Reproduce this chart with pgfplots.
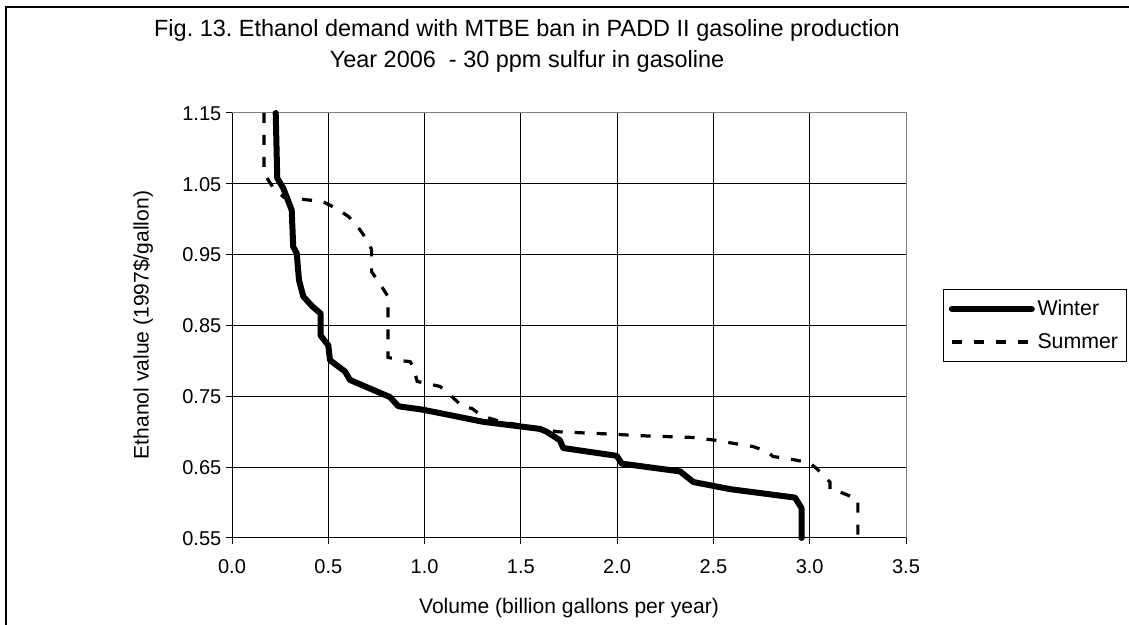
\documentclass[border=0pt]{standalone}
\usepackage{fontspec}
\setmainfont{Liberation Sans}
\usepackage{pgfplots}
\pgfplotsset{compat=1.18}
\frenchspacing
\begin{document}
\begin{tikzpicture}[x=0.75pt,y=0.75pt]
\useasboundingbox (0,0) rectangle (1129,625);
\draw[line width=1.5pt] (6,-10) -- (6,618) -- (1140,618);
\node[anchor=base,font=\fontsize{17.6}{20}\selectfont] at (527,588) {Fig. 13. Ethanol demand with MTBE ban in PADD II gasoline production};
\node[anchor=base,font=\fontsize{17.6}{20}\selectfont] at (527,557) {Year 2006\ \ - 30 ppm sulfur in gasoline};
\node[rotate=90,font=\fontsize{15.8}{18}\selectfont] at (143,300) {Ethanol value (1997\$/gallon)};
\node[font=\fontsize{15.8}{18}\selectfont] at (569,17) {Volume (billion gallons per year)};
\coordinate (ll) at (232,87);
\begin{axis}[
  at={(ll)}, anchor=south west,
  scale only axis, width=505.5pt, height=318.75pt,
  xmin=0, xmax=3.5, ymin=0.55, ymax=1.15,
  xtick={0,0.5,1,1.5,2,2.5,3,3.5},
  ytick={0.55,0.65,0.75,0.85,0.95,1.05,1.15},
  axis x line*=bottom, axis y line*=left,
  axis line style={black, line width=0.75pt},
  tick align=outside, major tick length=4.5pt,
  tick style={black, line width=0.75pt},
  grid=major, major grid style={black, line width=0.75pt},
  typeset ticklabels with strut,
  xticklabel style={/pgf/number format/.cd, fixed, fixed zerofill, precision=1, /tikz/.cd, yshift=-7pt},
  yticklabel style={/pgf/number format/.cd, fixed, fixed zerofill, precision=2, /tikz/.cd, yshift=-2pt},
  /pgf/number format/assume math mode=true,
  tick label style={font=\fontsize{15}{17}\selectfont},
  clip=false,
  legend style={at={(axis description cs:1.0549,0.5859)}, anchor=north west,
    draw=black, line width=0.75pt, font=\fontsize{16}{18}\selectfont,
    inner xsep=4pt, inner ysep=6pt, row sep=8pt, cells={anchor=west}},
  legend image code/.code={\draw[#1] (0pt,0pt) -- (60pt,0pt);},
]
\draw[gray, line width=0.75pt] (rel axis cs:0,1) -- (rel axis cs:1,1) -- (rel axis cs:1,0);
\addplot[black, line width=4.5pt, line cap=round, line join=round] coordinates {
(0.227,1.15)(0.235,1.058)(0.266,1.044)(0.31,1.013)(0.318,0.961)(0.336,0.952)
(0.348,0.914)(0.37,0.891)(0.417,0.877)(0.46,0.867)(0.46,0.836)(0.5,0.822)
(0.509,0.801)(0.587,0.785)(0.613,0.773)(0.82,0.749)(0.864,0.736)(0.994,0.731)
(1.305,0.714)(1.6,0.704)(1.634,0.70)(1.703,0.688)(1.72,0.677)(1.998,0.666)
(2.024,0.655)(2.327,0.644)(2.396,0.629)(2.586,0.619)(2.924,0.607)(2.958,0.592)
(2.958,0.55)};
\addlegendentry{Winter}
\addplot[black, line width=2.4pt, dash pattern=on 7.5pt off 9pt] coordinates {
(0.166,1.15)(0.166,1.065)(0.215,1.044)(0.27,1.031)(0.47,1.025)(0.544,1.015)
(0.604,1.004)(0.647,0.992)(0.708,0.968)(0.725,0.957)(0.725,0.926)(0.777,0.905)
(0.81,0.891)(0.81,0.805)(0.89,0.80)(0.925,0.799)(0.94,0.792)(0.962,0.771)
(1.08,0.764)(1.12,0.755)(1.2,0.735)(1.245,0.733)(1.30,0.722)(1.40,0.714)
(1.69,0.70)(1.94,0.697)(2.16,0.694)(2.39,0.692)(2.51,0.688)(2.595,0.684)
(2.707,0.679)(2.78,0.672)(2.81,0.665)(2.89,0.662)(3.0,0.656)(3.036,0.648)
(3.105,0.629)(3.105,0.618)(3.13,0.618)(3.22,0.608)(3.25,0.605)(3.25,0.55)};
\addlegendentry{Summer\hspace{14pt}}
\end{axis}
\end{tikzpicture}
\end{document}
